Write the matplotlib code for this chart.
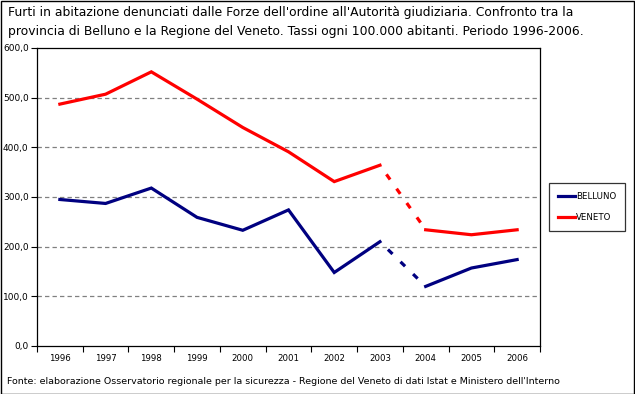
import matplotlib
matplotlib.use("Agg")
import matplotlib.pyplot as plt
from matplotlib.patches import Rectangle
from matplotlib.lines import Line2D
import numpy as np

years = ["1996", "1997", "1998", "1999", "2000", "2001", "2002", "2003", "2004", "2005", "2006"]
belluno = [295, 287, 318, 259, 233, 274, 148, 210, 120, 157, 174]
veneto = [487, 507, 552, 497, 440, 391, 331, 364, 234, 224, 234]
yticks = [0, 100, 200, 300, 400, 500, 600]
ytick_labels = ["0,0", "100,0", "200,0", "300,0", "400,0", "500,0", "600,0"]

title = ("Furti in abitazione denunciati dalle Forze dell'ordine all'Autorità giudiziaria. Confronto tra la\n"
         "provincia di Belluno e la Regione del Veneto. Tassi ogni 100.000 abitanti. Periodo 1996-2006.")
source = ("Fonte: elaborazione Osservatorio regionale per la sicurezza - Regione del Veneto di dati Istat e "
          "Ministero dell'Interno")

BLUE = "#000080"
RED = "#FF0000"
FONT = "DejaVu Sans"
plt.rcParams["font.family"] = [FONT]

fig = plt.figure(figsize=(6.35, 3.94), dpi=100)
fig.patch.set_facecolor("white")
fig.add_artist(Rectangle((0.5 / 635, 0.5 / 394), 1 - 1.5 / 635, 1 - 1.5 / 394,
                         transform=fig.transFigure, fill=False, edgecolor="black", lw=1.0))

ax = fig.add_axes([37 / 635, 1 - 346 / 394, (540 - 37) / 635, (346 - 48) / 394])
x = np.arange(len(years))

def draw(vals, color, label):
    lw = 2.3
    ax.plot(x[:8], vals[:8], color=color, lw=lw, solid_joinstyle="miter", label=label)
    ax.plot(x[7:9], vals[7:9], color=color, lw=lw, linestyle=(2.0, (2.0, 3.5)), dash_capstyle="butt")
    ax.plot(x[8:], vals[8:], color=color, lw=lw)

draw(belluno, BLUE, "BELLUNO")
draw(veneto, RED, "VENETO")

ax.set_xlim(-0.5, len(years) - 0.5)
ax.set_ylim(0, 600)
ax.set_yticks(yticks)
ax.set_yticklabels(ytick_labels, fontsize=6.5)
ax.set_xticks(np.arange(-0.5, len(years), 1.0))
ax.set_xticklabels([])
ax.set_xticks(x, minor=True)
ax.set_xticklabels(years, minor=True, fontsize=6.2)
ax.tick_params(axis="x", which="minor", length=0, pad=6)
ax.tick_params(axis="x", which="major", length=4, direction="out", width=0.8)
ax.tick_params(axis="y", length=4, direction="out", width=0.8, pad=2)
for v in yticks[1:-1]:
    ax.axhline(v, color="#808080", lw=0.9, linestyle=(0, (3.5, 2.5)), zorder=0)
for s in ax.spines.values():
    s.set_linewidth(0.9)
    s.set_color("black")

handles = [Line2D([], [], color=BLUE, lw=2.3), Line2D([], [], color=RED, lw=2.3)]
leg = fig.legend(handles, ["BELLUNO", "VENETO"], loc="center left",
                 bbox_to_anchor=(549 / 635, 1 - 207 / 394), fontsize=6.2,
                 frameon=True, fancybox=False, edgecolor="black", handlelength=2.0,
                 handletextpad=0.1, labelspacing=1.5, borderpad=1.0, borderaxespad=0)
leg.get_frame().set_linewidth(0.9)

fig.text(8 / 635, 1 - 6 / 394, title, ha="left", va="top", fontsize=8.9, linespacing=1.55)
fig.text(7 / 635, 1 - 381 / 394, source, ha="left", va="center", fontsize=6.8)

fig.savefig("out.png", dpi=100)
